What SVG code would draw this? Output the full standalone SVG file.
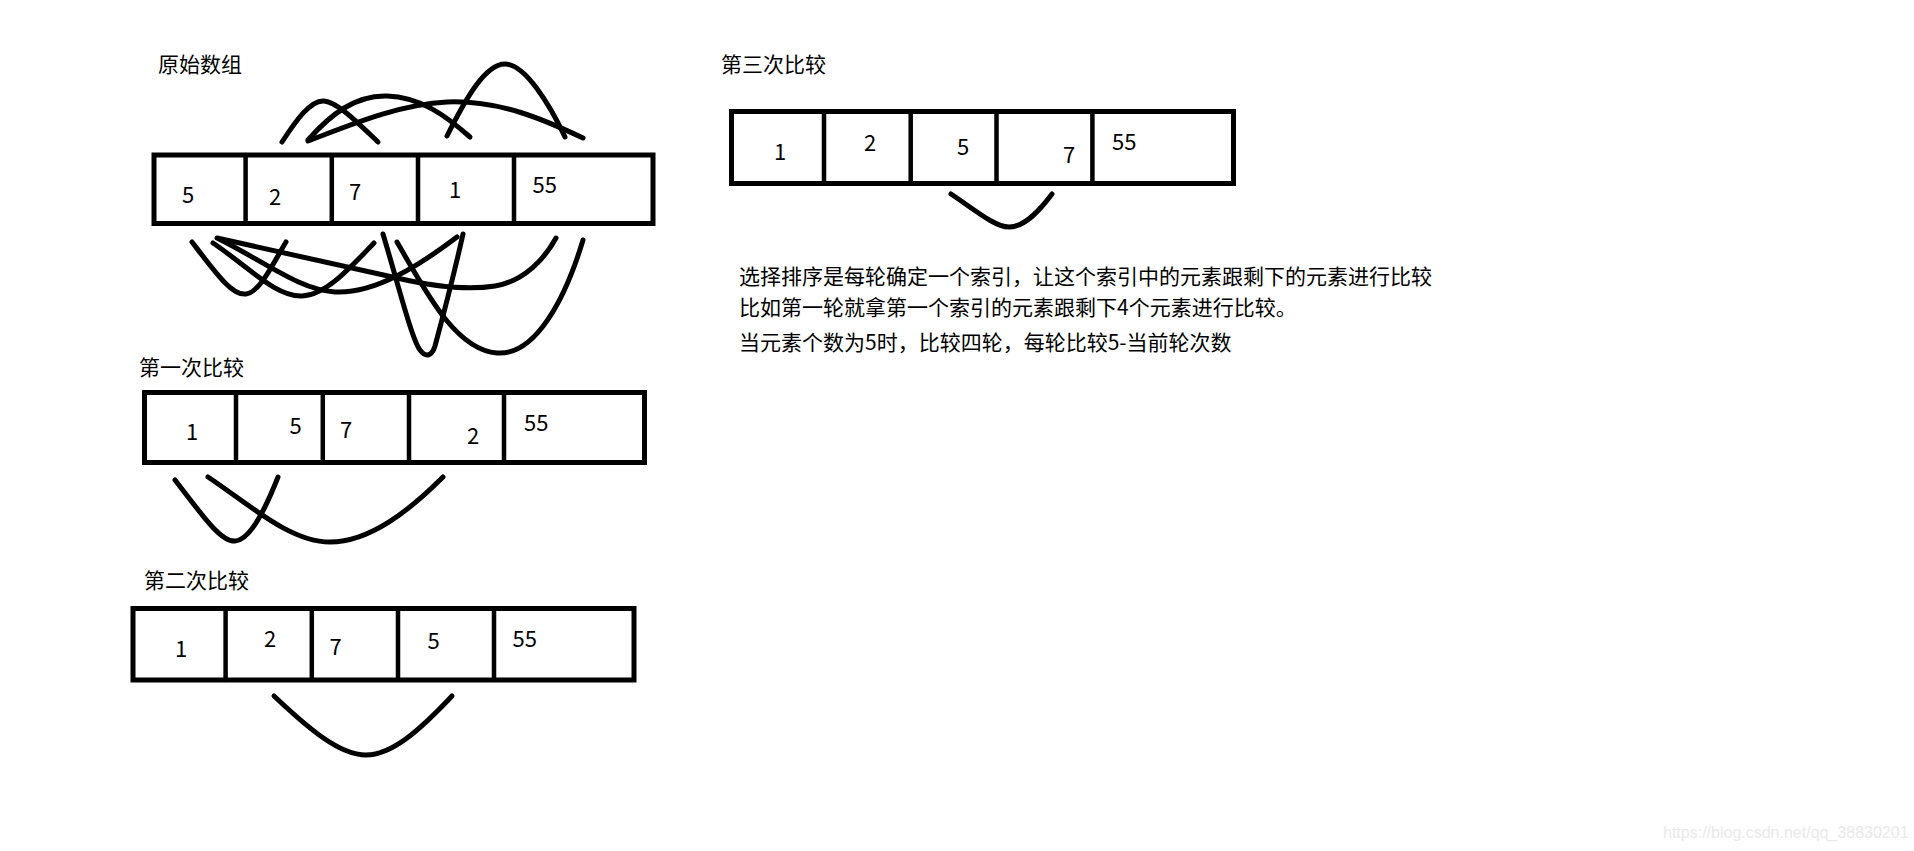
<svg xmlns="http://www.w3.org/2000/svg" width="1914" height="851" viewBox="0 0 1914 851">
<style>
.box{fill:none;stroke:#000;stroke-width:5}
.dv{stroke:#000;stroke-width:4.5;stroke-linecap:round}
.arc{fill:none;stroke:#000;stroke-width:5;stroke-linecap:round;stroke-linejoin:round}
.lbl{font-family:"Noto Sans CJK SC","Noto Sans",sans-serif;font-size:21px;fill:#000}
.num{font-family:"Noto Sans CJK SC","Noto Sans",sans-serif;font-size:22px;fill:#000}
.wm{font-family:"Liberation Sans",Arial,sans-serif;font-size:16px;fill:#e9e9e9}
</style>
<rect x="0" y="0" width="1914" height="851" fill="#fff"/>

<g id="label-original"><text class="lbl" x="158" y="71.5">原始数组</text></g>
<g id="array-original">
<rect class="box" x="154" y="155" width="499" height="68.5"/>
<line class="dv" x1="245.6" y1="155" x2="245.6" y2="223.5"/>
<line class="dv" x1="331.8" y1="157" x2="331.8" y2="222"/>
<line class="dv" x1="418" y1="157" x2="418" y2="222"/>
<line class="dv" x1="514" y1="155" x2="514" y2="223.5"/>
<text class="num" x="182" y="203">5</text>
<text class="num" x="269" y="205">2</text>
<text class="num" x="349" y="200">7</text>
<text class="num" x="449" y="198">1</text>
<text class="num" x="532.5" y="193">55</text>
</g>

<g id="label-round1"><text class="lbl" x="139" y="374.5">第一次比较</text></g>
<g id="array-round1">
<rect class="box" x="144.5" y="392.5" width="500" height="70"/>
<line class="dv" x1="236" y1="392.5" x2="236" y2="462.5"/>
<line class="dv" x1="322.8" y1="394" x2="322.8" y2="461"/>
<line class="dv" x1="409" y1="394" x2="409" y2="461"/>
<line class="dv" x1="504" y1="392.5" x2="504" y2="462.5"/>
<text class="num" x="186" y="440">1</text>
<text class="num" x="289.5" y="434">5</text>
<text class="num" x="340" y="438">7</text>
<text class="num" x="467" y="444">2</text>
<text class="num" x="524" y="431">55</text>
</g>

<g id="label-round2"><text class="lbl" x="144" y="587.5">第二次比较</text></g>
<g id="array-round2">
<rect class="box" x="133" y="608.5" width="501" height="71.5"/>
<line class="dv" x1="225.6" y1="608.5" x2="225.6" y2="680"/>
<line class="dv" x1="311.8" y1="610" x2="311.8" y2="679"/>
<line class="dv" x1="398" y1="610" x2="398" y2="679"/>
<line class="dv" x1="494" y1="608.5" x2="494" y2="680"/>
<text class="num" x="175" y="657">1</text>
<text class="num" x="264" y="647">2</text>
<text class="num" x="329.5" y="655">7</text>
<text class="num" x="427.5" y="649">5</text>
<text class="num" x="512.5" y="646.5">55</text>
</g>

<g id="label-round3"><text class="lbl" x="721" y="71.5">第三次比较</text></g>
<g id="array-round3">
<rect class="box" x="731.5" y="111.5" width="502" height="72"/>
<line class="dv" x1="824" y1="111.5" x2="824" y2="183.5"/>
<line class="dv" x1="910.7" y1="113" x2="910.7" y2="182"/>
<line class="dv" x1="996.5" y1="113" x2="996.5" y2="182"/>
<line class="dv" x1="1092.4" y1="111.5" x2="1092.4" y2="183.5"/>
<text class="num" x="774" y="160">1</text>
<text class="num" x="864" y="151">2</text>
<text class="num" x="957" y="155">5</text>
<text class="num" x="1063" y="162.5">7</text>
<text class="num" x="1112" y="150">55</text>
</g>

<g id="description">
<text class="lbl" x="739" y="283.5">选择排序是每轮确定一个索引，让这个索引中的元素跟剩下的元素进行比较</text>
<text class="lbl" x="739" y="315">比如第一轮就拿第一个索引的元素跟剩下4个元素进行比较。</text>
<text class="lbl" x="739" y="350">当元素个数为5时，比较四轮，每轮比较5-当前轮次数</text>
</g>

<g id="connectors">
<!-- above original array -->
<path class="arc" d="M282,142 C295,122 310,100 324,101 C338,102 360,125 378,142"/>
<path class="arc" d="M308,140 C330,115 355,95 387,96 C420,97 445,115 470,137"/>
<path class="arc" d="M308,141 C350,125 400,104 447,102 C500,100 545,120 583,138"/>
<path class="arc" d="M447,136 C465,100 485,64 505,64 C525,64 550,105 565,137"/>
<!-- below original array -->
<path class="arc" d="M192,242 C215,272 232,296 246,294 C260,292 272,265 286,242"/>
<path class="arc" d="M213,243 C250,268 276,297 302,296 C326,295 350,268 374,243"/>
<path class="arc" d="M219,239 C265,262 300,290 335,292 C375,294 420,265 457,237"/>
<path class="arc" d="M217,238 L397,278 C440,288 470,290 495,286 C525,281 545,258 556,238"/>
<path class="arc" d="M383,234 C398,284 412,340 420,350 C426,358 432,356 435,346 C442,320 455,270 463,234"/>
<path class="arc" d="M397,242 C425,290 455,350 497,353 C535,356 565,300 583,240"/>
<!-- below round 1 -->
<path class="arc" d="M175,480 C200,512 220,542 235,541 C250,540 265,510 278,477"/>
<path class="arc" d="M208,477 C250,505 290,542 330,542 C370,542 410,510 443,477"/>
<!-- below round 2 -->
<path class="arc" d="M274,696 C310,730 340,755 366,755 C392,755 420,730 452,696"/>
<!-- below round 3 -->
<path class="arc" d="M951,194 C975,210 995,227 1009,227 C1025,227 1040,210 1052,194"/>
</g>

<g id="watermark"><text class="wm" x="1663" y="838">https://blog.csdn.net/qq_38830201</text></g>
</svg>
